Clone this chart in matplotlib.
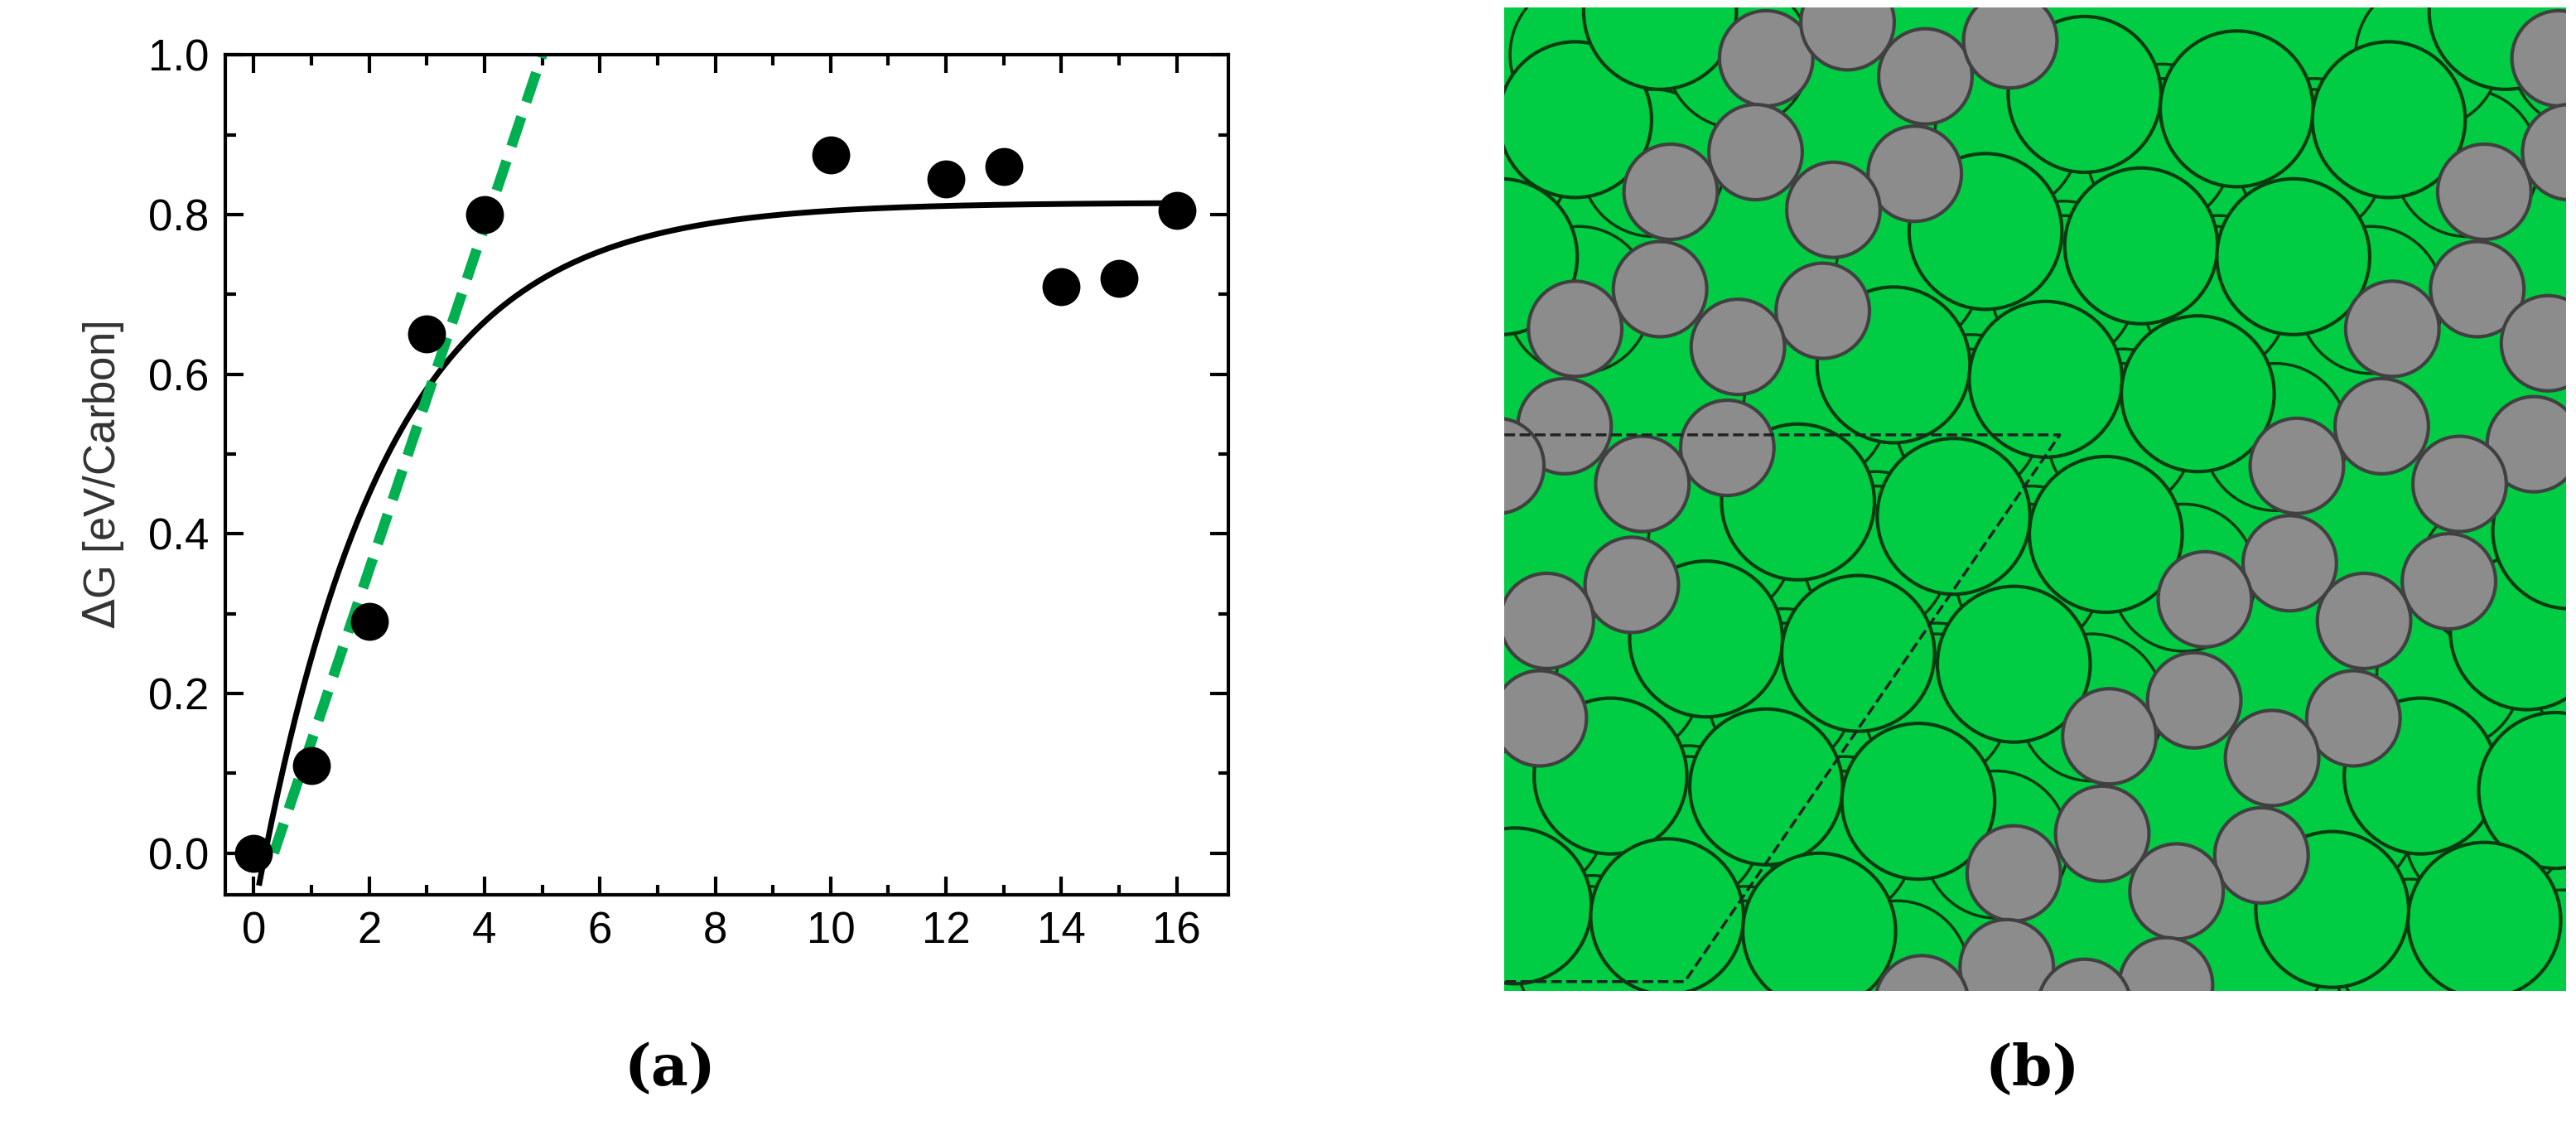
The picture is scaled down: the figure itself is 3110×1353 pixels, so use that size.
import matplotlib.pyplot as plt
import numpy as np
from matplotlib.patches import Circle

# panel (a) data
n_carbon = [0, 1, 2, 3, 4, 10, 12, 13, 14, 15, 16]
dG = [0.0, 0.11, 0.29, 0.65, 0.80, 0.875, 0.845, 0.86, 0.71, 0.72, 0.805]
fit_A, fit_x0, fit_tau = 0.815, 0.2, 2.24
lin_x = [0.35, 5.0]
lin_y = [0.0, 1.0]

# panel (b) circles (image pixel coords)
green_xy = [(125, 170), (245, 20), (845, 135), (1060, 155), (1275, 170), (1440, 20), (20, 360),
            (705, 325), (925, 345), (1140, 360), (575, 510), (790, 530), (1005, 550),
            (440, 700), (660, 720), (875, 745), (310, 890), (525, 910), (745, 925),
            (175, 1080), (395, 1095), (610, 1115), (40, 1260), (255, 1275), (470, 1295),
            (1470, 880), (1320, 1080), (1510, 1100), (1410, 1280), (1195, 1265), (1530, 740)]
gray_xy = [(395, 85), (510, 35), (620, 110), (740, 60), (380, 215), (605, 245), (260, 270),
           (490, 295), (245, 405), (475, 435), (125, 460), (355, 485), (110, 595), (340, 625),
           (220, 675), (15, 650), (205, 815), (85, 865), (75, 1000), (1515, 85), (1530, 215),
           (1410, 270), (1400, 405), (1280, 460), (1500, 480), (1265, 595), (1480, 620),
           (1145, 650), (1375, 675), (1135, 785), (1360, 810), (1015, 835), (1240, 865),
           (1000, 975), (1225, 1000), (880, 1025), (1110, 1055), (870, 1160), (1095, 1190),
           (745, 1215), (975, 1240), (735, 1345), (960, 1370), (615, 1395), (845, 1400)]
cell_x = [25, 810, 280, 25]
cell_y = [607, 607, 1365, 1365]

green = '#00cc44'
gray = '#8c8c8c'
plt.rcParams['font.family'] = ['Liberation Sans', 'DejaVu Sans']

fig = plt.figure(figsize=(31.1, 13.53), dpi=100)

ax = fig.add_axes([0.0875, 0.202, 0.3895, 0.749])
xs = np.linspace(0.1, 16, 300)
ax.plot(xs, fit_A * (1 - np.exp(-(xs - fit_x0) / fit_tau)), color='black', lw=5)
ax.plot(lin_x, lin_y, '--', color='#00b050', lw=9, dashes=(3, 1.5))
ax.plot(n_carbon, dG, 'o', color='black', ms=32)
ax.set_xlim(-0.49, 16.9)
ax.set_ylim(-0.052, 1.0)
ax.set_xticks(range(0, 17, 2))
ax.set_xticks(range(0, 17), minor=True)
ax.set_yticks(np.arange(0, 1.01, 0.2))
ax.set_yticks(np.arange(0, 1.01, 0.1), minor=True)
ax.set_yticklabels(['0.0', '0.2', '0.4', '0.6', '0.8', '1.0'])
ax.tick_params(which='both', direction='in', top=True, right=True, width=3, labelsize=38, pad=14)
ax.tick_params(which='major', length=16)
ax.tick_params(which='minor', length=9)
for s in ax.spines.values():
    s.set_linewidth(3)
ax.set_ylabel(r'$\Delta$G [eV/Carbon]', fontsize=38, color='#333333', labelpad=20)
fig.text(0.26, 0.032, '(a)', fontsize=50, family='DejaVu Serif', ha='center', weight='bold')

bx = fig.add_axes([0.584, 0.116, 0.412, 0.877])
bx.set_facecolor(green)
for x, y in green_xy:
    bx.add_patch(Circle((x - 110, y + 60), 102, fc=green, ec='#0a3a10', lw=2.5, zorder=1))
    bx.add_patch(Circle((x + 110, y + 60), 102, fc=green, ec='#0a3a10', lw=2.5, zorder=1))
for x, y in green_xy:
    bx.add_patch(Circle((x, y), 108, fc=green, ec='#0a3a10', lw=3, zorder=2))
for x, y in gray_xy:
    bx.add_patch(Circle((x, y), 66, fc=gray, ec='#404040', lw=3, zorder=3))
bx.plot(cell_x, cell_y, '--', color='#222222', lw=2.5, zorder=4)
bx.set_xlim(25, 1525)
bx.set_ylim(1378, 15)
bx.set_xticks([])
bx.set_yticks([])
for s in bx.spines.values():
    s.set_visible(False)
fig.text(0.789, 0.032, '(b)', fontsize=50, family='DejaVu Serif', ha='center', weight='bold')

fig.savefig('out.png')
